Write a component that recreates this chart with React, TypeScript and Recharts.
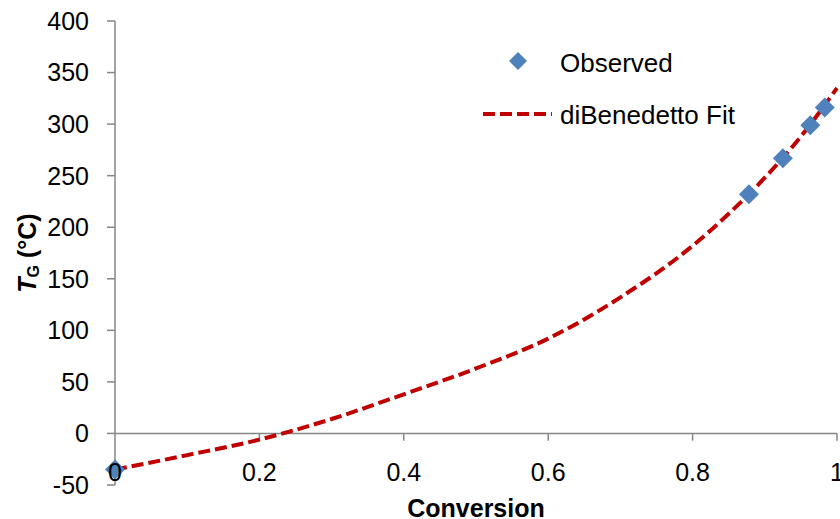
import React from 'react';
import { ComposedChart, Line, Scatter, XAxis, YAxis, ReferenceLine } from 'recharts';

// diBenedetto fit curve
const fitX = [0, 0.1, 0.2, 0.3, 0.4, 0.5, 0.6, 0.7, 0.8, 0.85, 0.9, 0.95, 1];
const fitTg = [-35, -21, -6, 14, 38, 63, 92, 132, 182, 213, 248, 288, 335];

// observed glass transition temperatures
const obsX = [0, 0.878, 0.925, 0.963, 0.983];
const obsTg = [-35, 232, 267, 299, 316];

const xTicks = [0, 0.2, 0.4, 0.6, 0.8, 1];
const yTicks = [-50, 0, 50, 100, 150, 200, 250, 300, 350, 400];

const fitData = fitX.map((x, i) => ({ x, tg: fitTg[i] }));
const obsData = obsX.map((x, i) => ({ x, tg: obsTg[i] }));

const FONT = '"Liberation Sans", Arial, sans-serif';
const AXIS = '#868686';
const BLUE = '#4F81BD';
const RED = '#C00000';

const Diamond = (props: any) => {
  const { cx, cy } = props;
  const r = 10;
  return (
    <polygon
      points={`${cx},${cy - r} ${cx + r},${cy} ${cx},${cy + r} ${cx - r},${cy}`}
      fill={BLUE}
    />
  );
};

const XTick = (props: any) => {
  const { x, y, payload } = props;
  return (
    <text x={x} y={y} dy={-4} textAnchor="middle" fill="#000" fontSize={25} fontFamily={FONT}>
      {payload.value}
    </text>
  );
};

const YLabel = (props: any) => {
  const { viewBox } = props;
  const cx = 27;
  const cy = viewBox.y + viewBox.height / 2;
  return (
    <text
      x={cx}
      y={cy}
      transform={`rotate(-90 ${cx} ${cy})`}
      textAnchor="middle"
      dominantBaseline="central"
      fontSize={25}
      fontWeight="bold"
      fontFamily={FONT}
      fill="#000"
    >
      <tspan fontStyle="italic">T</tspan>
      <tspan fontSize={16} dy={6}>G</tspan>
      <tspan dy={-6}> (°C)</tspan>
    </text>
  );
};

export default function App() {
  return (
    <div style={{ position: 'absolute', left: 0, top: 0, width: 840, height: 519, background: '#fff' }}>
      <ComposedChart width={840} height={519} margin={{ top: 21, right: 3, bottom: 0, left: 0 }}>
        <XAxis
          type="number"
          dataKey="x"
          domain={[0, 1]}
          ticks={xTicks}
          interval={0}
          height={34}
          axisLine={false}
          tickLine={false}
          tickSize={0}
          tickMargin={0}
          tick={<XTick />}
          label={{
            value: 'Conversion',
            position: 'insideBottom',
            offset: 2,
            style: { fontSize: 25, fontWeight: 'bold', fontFamily: FONT, fill: '#000' },
          }}
        />
        <YAxis
          type="number"
          domain={[-50, 400]}
          ticks={yTicks}
          interval={0}
          width={115}
          axisLine={{ stroke: AXIS, strokeWidth: 1.5 }}
          tickLine={{ stroke: AXIS, strokeWidth: 1.5 }}
          tickSize={8}
          tickMargin={18}
          tick={{ fontSize: 25, fill: '#000', fontFamily: FONT }}
          label={<YLabel />}
        />
        <ReferenceLine y={0} stroke={AXIS} strokeWidth={1.5} />
        {xTicks.slice(1).map((t) => (
          <ReferenceLine
            key={t}
            segment={[{ x: t, y: 0 }, { x: t, y: -7 }]}
            stroke={AXIS}
            strokeWidth={1.5}
          />
        ))}
        <Line
          data={fitData}
          dataKey="tg"
          type="monotone"
          stroke={RED}
          strokeWidth={4}
          strokeDasharray="12 5"
          dot={false}
          activeDot={false}
          isAnimationActive={false}
        />
        <Scatter data={obsData} dataKey="tg" shape={<Diamond />} isAnimationActive={false} />
      </ComposedChart>
      <svg
        width={840}
        height={519}
        style={{ position: 'absolute', left: 0, top: 0, pointerEvents: 'none' }}
        fontFamily={FONT}
      >
        <polygon points="518,52 527,61 518,70 509,61" fill={BLUE} />
        <text x={560} y={63} dominantBaseline="central" fontSize={26} fill="#000">Observed</text>
        <line x1={483} y1={114} x2={552} y2={114} stroke={RED} strokeWidth={4} strokeDasharray="12 5" />
        <text x={560} y={115} dominantBaseline="central" fontSize={26} fill="#000">diBenedetto Fit</text>
      </svg>
    </div>
  );
}
